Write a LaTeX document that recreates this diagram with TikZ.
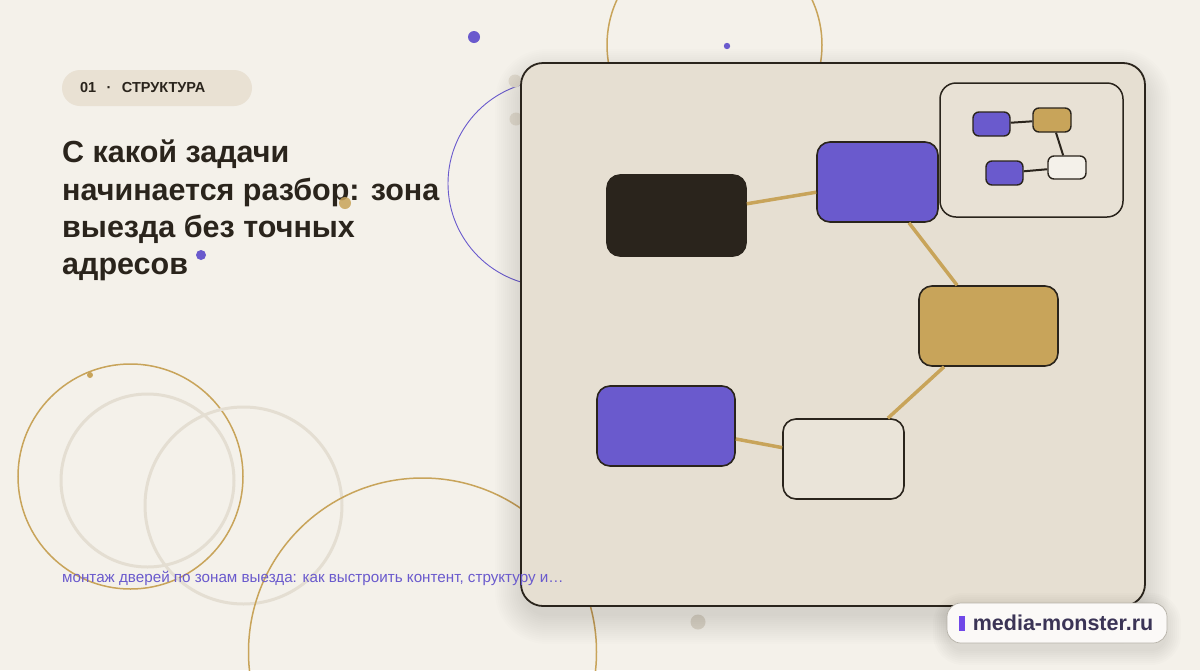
\documentclass[tikz,border=0pt]{standalone}
\usepackage{fontspec}
\setmainfont{Liberation Sans}
\usepackage{tikz}
\usetikzlibrary{positioning, calc}
\usepackage{xcolor}
\definecolor{paper}{HTML}{F4F1EA}
\definecolor{card}{HTML}{E6DFD2}
\definecolor{ink}{HTML}{2A241C}
\definecolor{violet}{HTML}{6A5ACD}
\definecolor{gold}{HTML}{C8A45A}
\definecolor{pale}{HTML}{EAE4D9}
\definecolor{mist}{HTML}{E4DED2}
\definecolor{pebble}{HTML}{DDD7CB}
\definecolor{tagfill}{HTML}{E9E1D3}
\definecolor{navy}{HTML}{3B3456}
\definecolor{barviolet}{HTML}{7048E8}

\begin{document}
\begin{tikzpicture}[x=1pt, y=-1pt,
  box/.style={draw=ink, line width=1.6pt, rounded corners=13pt, inner sep=0pt, minimum height=80pt},
  mini/.style={draw=ink, line width=1.4pt, rounded corners=6pt, inner sep=0pt, minimum width=37pt, minimum height=24pt},
  link/.style={gold, line width=3.5pt},
  minilink/.style={ink, line width=2pt},
  ring/.style={line width=1.5pt}]
  \useasboundingbox (0,0) rectangle (1200,670);
  \fill[paper] (0,0) rectangle (1200,670);

  % Rings and dots behind the card
  \draw[ring, gold] (714.5,45) circle[radius=107.5pt];
  \draw[violet, line width=0.9pt] (551,183.5) circle[radius=103pt];
  \draw[ring, gold] (130.5,476.5) circle[radius=112.5pt];
  \draw[mist, line width=3pt] (147.5,480.5) circle[radius=86.5pt];
  \draw[mist, line width=3pt] (243.5,505.5) circle[radius=98.5pt];
  \draw[ring, gold] (422.5,652) circle[radius=174pt];
  \fill[gold] (90,375) circle[radius=3pt];
  \fill[violet] (474,37) circle[radius=6pt];
  \fill[violet] (727,46) circle[radius=3.2pt];
  \fill[mist] (515,81) circle[radius=6.5pt];
  \fill[mist] (516,119) circle[radius=6.5pt];
  \fill[pebble] (698,622) circle[radius=7.5pt];

  % Card with soft shadow
  \foreach \i in {2,4,...,30}
    \fill[black, opacity=0.007, rounded corners=22pt+\i pt] (521+4-\i,63+16-\i) rectangle (1145-4+\i,606+8+\i);
  \node[draw=ink, line width=1.8pt, fill=card, rounded corners=22pt, minimum width=624pt, minimum height=543pt] (card) at (833,334.5) {};

  % Main graph
  \node[box, fill=ink, minimum width=139pt, minimum height=81pt] (dark) at (676.5,215.5) {};
  \node[box, fill=violet, minimum width=121pt] (hub) at (877.5,182) {};
  \node[box, fill=gold, minimum width=139pt] (ochre) at (988.5,326) {};
  \node[box, fill=violet, minimum width=138pt] (left) at (666,426) {};
  \node[box, fill=pale, minimum width=121pt] (blank) at (843.5,459) {};
  \draw[link] (dark) -- (hub);
  \draw[link] (hub) -- (ochre);
  \draw[link] (ochre) -- (blank);
  \draw[link] (left) -- (blank);

  % Inset
  \node[draw=ink, line width=1.5pt, fill=card!60!pale, rounded corners=16pt, minimum width=183pt, minimum height=134pt] (inset) at (1031.5,150) {};
  \node[mini, fill=violet] (ma) at (991.5,124) {};
  \node[mini, fill=gold, minimum width=38pt] (mb) at (1052,120) {};
  \node[mini, fill=violet] (mc) at (1004.5,173) {};
  \node[mini, fill=paper, minimum width=38pt, minimum height=23pt] (md) at (1067,167.5) {};
  \draw[minilink] (ma) -- (mb);
  \draw[minilink] (mb) -- (md);
  \draw[minilink] (mc) -- (md);

  % Tag and title
  \node[fill=tagfill, rounded corners=18pt, minimum width=190pt, minimum height=36pt] (tag) at (157,88) {};
  \node[right=18pt of tag.west, anchor=west, inner sep=0pt, text=ink, font=\fontsize{14.5}{17}\selectfont\bfseries] (tagtext) {01 \, · \, СТРУКТУРА};
  \node[anchor=north west, align=left, inner sep=0pt, text=ink, font=\fontsize{30.5}{37.3}\selectfont\bfseries] (title) at (62,140) {С какой задачи\\начинается разбор: зона\\выезда без точных\\адресов};
  \fill[gold, opacity=0.85] (345,203) circle[radius=6pt];
  \fill[violet] (201,255) circle[radius=5pt];

  % Lead line
  \node[anchor=base west, inner sep=0pt, text=violet, font=\fontsize{15.2}{18}\selectfont] (lead) at (62,582) {монтаж дверей по зонам выезда: как выстроить контент, структуру и…};

  % Brand badge
  \foreach \i in {2,4,...,16}
    \fill[black, opacity=0.01, rounded corners=14pt+\i pt] (947+2-\i,603+6-\i) rectangle (1167-2+\i,643+6+\i);
  \node[draw=mist!80!black, line width=0.7pt, fill=paper!40!white, rounded corners=14pt, minimum width=220pt, minimum height=40pt] (badge) at (1057,623) {};
  \fill[barviolet] (959,616) rectangle (965,631);
  \node[right=26pt of badge.west, anchor=west, inner sep=0pt, text=navy, font=\fontsize{21.5}{24}\selectfont\bfseries] (brand) {media-monster.ru};
\end{tikzpicture}
\end{document}
